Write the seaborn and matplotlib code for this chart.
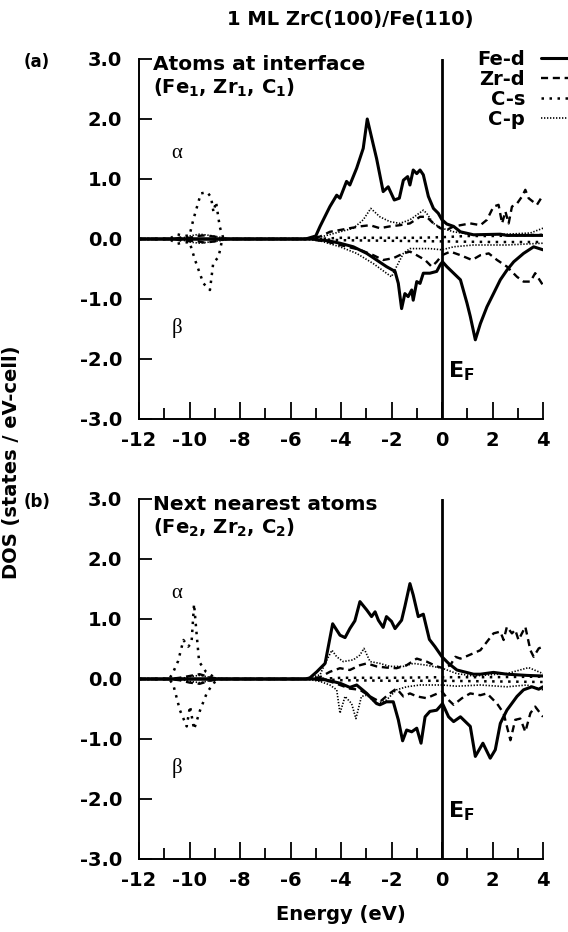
import matplotlib
matplotlib.use("Agg")
import matplotlib.pyplot as plt
import seaborn as sns
import numpy as np
import pandas as pd

# ---------------- data ----------------
# Panel (a): atoms at interface
a_fe_up_E = [-12, -5.4, -5.0, -4.83, -4.44, -4.17, -4.04, -3.78, -3.65, -3.38, -3.12, -2.96, -2.72, -2.59, -2.33, -2.13, -1.89, -1.69, -1.53, -1.36, -1.27, -1.14, -1.0, -0.87, -0.74, -0.54, -0.34, -0.15, 0.0, 0.19, 0.46, 0.73, 1.25, 2.31, 2.57, 4.0]
a_fe_up_v = [0, 0, 0.05, 0.21, 0.54, 0.73, 0.68, 0.96, 0.90, 1.18, 1.51, 2.0, 1.57, 1.34, 0.79, 0.87, 0.65, 0.68, 0.98, 1.04, 0.90, 1.15, 1.09, 1.15, 1.07, 0.71, 0.51, 0.43, 0.32, 0.25, 0.21, 0.12, 0.07, 0.08, 0.06, 0.06]
a_fe_dn_E = [-12, -5.2, -4.5, -4.04, -3.51, -2.98, -2.59, -2.2, -1.86, -1.73, -1.6, -1.47, -1.34, -1.2, -1.14, -1.0, -0.87, -0.74, -0.48, -0.21, -0.07, 0.02, 0.19, 0.46, 0.73, 0.99, 1.12, 1.32, 1.52, 1.78, 2.04, 2.31, 2.57, 2.84, 3.23, 3.63, 4.0]
a_fe_dn_v = [0, 0, -0.03, -0.07, -0.13, -0.24, -0.35, -0.46, -0.54, -0.74, -1.16, -0.91, -0.96, -0.85, -1.02, -0.71, -0.74, -0.57, -0.57, -0.54, -0.43, -0.38, -0.46, -0.57, -0.68, -1.07, -1.29, -1.68, -1.41, -1.13, -0.91, -0.68, -0.52, -0.38, -0.24, -0.13, -0.18]
a_zr_up_E = [-12, -10.6, -10.3, -10.0, -9.7, -9.4, -9.0, -8.6, -5.4, -4.83, -4.44, -4.04, -3.65, -3.25, -2.85, -2.46, -2.07, -1.67, -1.27, -0.87, -0.61, -0.34, -0.07, 0.19, 0.46, 0.73, 1.12, 1.52, 1.78, 2.04, 2.24, 2.38, 2.51, 2.64, 2.77, 2.97, 3.17, 3.3, 3.43, 3.76, 4.0]
a_zr_up_v = [0, 0, 0.03, 0.02, 0.05, 0.06, 0.04, 0, 0, 0.04, 0.12, 0.15, 0.18, 0.21, 0.23, 0.18, 0.21, 0.23, 0.26, 0.37, 0.37, 0.26, 0.18, 0.15, 0.21, 0.23, 0.26, 0.23, 0.32, 0.54, 0.57, 0.26, 0.46, 0.26, 0.54, 0.59, 0.71, 0.82, 0.68, 0.57, 0.73]
a_zr_dn_E = [-12, -10.6, -10.2, -9.8, -9.4, -9.0, -8.6, -5.3, -4.6, -4.04, -3.25, -2.72, -2.33, -1.93, -1.53, -1.27, -1.0, -0.67, -0.41, -0.21, 0.0, 0.33, 0.73, 1.19, 1.52, 1.85, 2.18, 2.57, 2.97, 3.23, 3.5, 3.69, 4.0]
a_zr_dn_v = [0, 0, -0.04, -0.03, -0.06, -0.04, 0, 0, -0.04, -0.1, -0.18, -0.27, -0.35, -0.32, -0.24, -0.21, -0.27, -0.35, -0.46, -0.38, -0.27, -0.21, -0.27, -0.35, -0.27, -0.24, -0.35, -0.46, -0.63, -0.71, -0.71, -0.57, -0.77]
a_cs_up_E = [-12, -10.8, -10.5, -10.2, -10.0, -9.85, -9.55, -9.3, -9.15, -9.05, -8.95, -8.8, -8.65, -5.0, -4.0, -3.0, -2.0, -1.0, 0.0, 1.0, 2.0, 3.0, 4.0]
a_cs_up_v = [0, 0, 0.08, 0.05, 0.06, 0.32, 0.76, 0.78, 0.70, 0.45, 0.62, 0.2, 0.0, 0.0, 0.02, 0.02, 0.02, 0.02, 0.03, 0.05, 0.05, 0.06, 0.07]
a_cs_dn_E = [-12, -10.8, -10.5, -10.2, -10.0, -9.78, -9.45, -9.19, -9.06, -8.85, -8.7, -5.0, -4.0, -2.0, 0.0, 2.0, 4.0]
a_cs_dn_v = [0, 0, -0.08, -0.06, -0.05, -0.35, -0.74, -0.85, -0.40, -0.30, 0.0, 0.0, -0.02, -0.03, -0.04, -0.05, -0.05]
a_cp_up_E = [-12, -10.4, -10.0, -9.6, -9.2, -8.8, -8.4, -5.4, -4.83, -4.04, -3.51, -3.12, -2.82, -2.46, -2.07, -1.67, -1.27, -1.0, -0.74, -0.61, -0.34, 0.0, 0.46, 1.25, 2.57, 3.5, 4.0]
a_cp_up_v = [0, 0, 0.05, 0.08, 0.06, 0.03, 0, 0, 0.03, 0.12, 0.18, 0.32, 0.51, 0.37, 0.29, 0.26, 0.32, 0.40, 0.48, 0.43, 0.26, 0.18, 0.12, 0.07, 0.08, 0.1, 0.18]
a_cp_dn_E = [-12, -10.4, -10.0, -9.6, -9.2, -8.8, -8.4, -5.4, -4.83, -4.04, -3.38, -2.72, -2.2, -2.0, -1.8, -1.53, -1.27, -0.87, -0.48, 0.0, 0.46, 1.25, 2.57, 4.0]
a_cp_dn_v = [0, 0, -0.05, -0.07, -0.05, -0.03, 0, 0, -0.03, -0.13, -0.24, -0.41, -0.57, -0.63, -0.46, -0.24, -0.16, -0.16, -0.16, -0.18, -0.13, -0.1, -0.1, -0.07]

# Panel (b): next nearest atoms
b_fe_up_E = [-12, -5.4, -5.23, -4.96, -4.63, -4.33, -4.04, -3.84, -3.65, -3.45, -3.25, -2.98, -2.79, -2.65, -2.52, -2.33, -2.2, -2.0, -1.86, -1.6, -1.47, -1.27, -1.14, -0.94, -0.74, -0.5, -0.28, 0.0, 0.26, 0.59, 1.25, 1.52, 2.04, 2.57, 3.36, 4.0]
b_fe_up_v = [0, 0, 0.02, 0.12, 0.26, 0.92, 0.73, 0.69, 0.84, 0.97, 1.29, 1.15, 1.04, 1.12, 0.98, 0.86, 1.04, 0.96, 0.84, 0.98, 1.21, 1.59, 1.40, 1.04, 1.08, 0.66, 0.54, 0.37, 0.26, 0.15, 0.08, 0.08, 0.11, 0.08, 0.06, 0.05]
b_fe_dn_E = [-12, -5.2, -4.83, -4.44, -4.04, -3.65, -3.38, -2.98, -2.59, -2.46, -2.2, -1.93, -1.73, -1.56, -1.4, -1.2, -1.0, -0.83, -0.67, -0.48, -0.21, 0.02, 0.26, 0.46, 0.73, 1.12, 1.32, 1.62, 1.91, 2.11, 2.31, 2.57, 2.97, 3.23, 3.56, 3.83, 4.0]
b_fe_dn_v = [0, 0, 0, -0.03, -0.07, -0.14, -0.10, -0.24, -0.41, -0.43, -0.38, -0.38, -0.68, -1.03, -0.85, -0.88, -0.82, -1.07, -0.63, -0.54, -0.52, -0.41, -0.63, -0.71, -0.63, -0.79, -1.29, -1.07, -1.32, -1.18, -0.74, -0.52, -0.29, -0.18, -0.13, -0.17, -0.13]
b_zr_up_E = [-12, -10.8, -10.4, -10.0, -9.6, -9.2, -8.8, -5.4, -4.83, -4.44, -4.04, -3.65, -3.25, -2.98, -2.59, -2.2, -1.8, -1.4, -1.0, -0.61, -0.21, 0.06, 0.33, 0.53, 0.73, 0.92, 1.25, 1.52, 1.78, 2.04, 2.31, 2.44, 2.57, 2.77, 2.9, 3.03, 3.3, 3.5, 3.63, 3.83, 4.0]
b_zr_up_v = [0, 0, 0.02, 0.05, 0.08, 0.03, 0, 0, 0.03, 0.12, 0.18, 0.15, 0.23, 0.26, 0.21, 0.19, 0.18, 0.23, 0.34, 0.29, 0.21, 0.18, 0.23, 0.37, 0.34, 0.37, 0.43, 0.48, 0.62, 0.76, 0.79, 0.65, 0.87, 0.76, 0.82, 0.65, 0.87, 0.48, 0.37, 0.51, 0.54]
b_zr_dn_E = [-12, -10.8, -10.4, -10.0, -9.6, -9.2, -8.8, -5.2, -4.44, -4.04, -3.65, -3.25, -2.85, -2.46, -2.07, -1.8, -1.53, -1.27, -1.0, -0.61, -0.34, 0.0, 0.26, 0.46, 0.79, 1.12, 1.52, 1.78, 2.18, 2.44, 2.57, 2.71, 2.9, 3.1, 3.3, 3.5, 3.69, 4.0]
b_zr_dn_v = [0, 0, -0.02, -0.06, -0.08, -0.03, 0, 0, -0.04, -0.1, -0.16, -0.18, -0.29, -0.38, -0.24, -0.16, -0.29, -0.24, -0.29, -0.32, -0.27, -0.21, -0.35, -0.43, -0.32, -0.24, -0.27, -0.24, -0.41, -0.57, -0.79, -1.02, -0.68, -0.66, -0.88, -0.57, -0.46, -0.63]
b_cs_up_E = [-12, -10.8, -10.64, -10.45, -10.24, -10.05, -9.92, -9.82, -9.72, -9.62, -9.35, -9.06, -8.8, -5.0, -4.0, -2.0, 0.0, 2.0, 4.0]
b_cs_up_v = [0, 0, 0.12, 0.3, 0.65, 0.54, 0.60, 1.25, 0.76, 0.29, 0.12, 0.04, 0, 0, 0.02, 0.02, 0.03, 0.03, 0.04]
b_cs_dn_E = [-12, -10.8, -10.64, -10.38, -10.11, -9.98, -9.82, -9.58, -9.32, -9.06, -8.8, -5.0, -4.0, -2.0, 0.0, 2.0, 4.0]
b_cs_dn_v = [0, 0, -0.1, -0.52, -0.79, -0.45, -0.84, -0.52, -0.24, -0.07, 0, 0, -0.02, -0.03, -0.03, -0.04, -0.05]
b_cp_up_E = [-12, -10.4, -10.0, -9.6, -9.2, -8.8, -5.4, -4.83, -4.63, -4.36, -4.17, -3.91, -3.51, -3.25, -3.09, -2.85, -2.46, -2.07, -1.53, -1.14, -0.61, 0.0, 0.59, 1.25, 2.57, 3.43, 4.0]
b_cp_up_v = [0, 0, 0.04, 0.06, 0.03, 0, 0, 0.07, 0.26, 0.48, 0.37, 0.29, 0.32, 0.40, 0.51, 0.29, 0.26, 0.21, 0.21, 0.26, 0.23, 0.18, 0.09, 0.05, 0.09, 0.19, 0.09]
b_cp_dn_E = [-12, -10.4, -10.0, -9.6, -9.2, -8.8, -5.4, -4.83, -4.44, -4.17, -4.04, -3.84, -3.58, -3.41, -3.19, -2.98, -2.59, -2.2, -1.8, -1.4, -0.87, 0.0, 0.59, 1.52, 2.57, 3.36, 4.0]
b_cp_dn_v = [0, 0, -0.04, -0.06, -0.03, 0, 0, -0.04, -0.1, -0.18, -0.57, -0.29, -0.41, -0.66, -0.29, -0.27, -0.41, -0.35, -0.18, -0.13, -0.1, -0.1, -0.12, -0.1, -0.13, -0.1, -0.18]

orbitals = ["Fe-d", "Zr-d", "C-s", "C-p"]
x_ticks = [-12, -10, -8, -6, -4, -2, 0, 2, 4]
y_ticks = [-3.0, -2.0, -1.0, 0.0, 1.0, 2.0, 3.0]

# ---------------- styling ----------------
sns.set_theme(style="ticks")
plt.rcParams["font.family"] = ["DejaVu Sans"]
plt.rcParams["font.weight"] = "bold"
plt.rcParams["text.color"] = "black"
plt.rcParams["axes.labelcolor"] = "black"
plt.rcParams["xtick.color"] = "black"
plt.rcParams["ytick.color"] = "black"
plt.rcParams["mathtext.fontset"] = "dejavusans"
plt.rcParams["mathtext.default"] = "bf"

styles = {
    "Fe-d": dict(linestyle="-", linewidth=2.2),
    "Zr-d": dict(linestyle=(0, (3.0, 2.0)), linewidth=1.7),
    "C-s": dict(linestyle=(0, (1.0, 2.2)), linewidth=1.8),
    "C-p": dict(linestyle=(0, (0.8, 1.0)), linewidth=1.2),
}

W, H = 568, 932
fig = plt.figure(figsize=(W / 100, H / 100), dpi=100)

def fx(px):
    return px / W

def fy(py):
    return 1 - py / H

left_px, right_px = 139, 543
panels = [
    dict(top=59, bottom=419,
         data={"Fe-d": (a_fe_up_E, a_fe_up_v, a_fe_dn_E, a_fe_dn_v),
               "Zr-d": (a_zr_up_E, a_zr_up_v, a_zr_dn_E, a_zr_dn_v),
               "C-s": (a_cs_up_E, a_cs_up_v, a_cs_dn_E, a_cs_dn_v),
               "C-p": (a_cp_up_E, a_cp_up_v, a_cp_dn_E, a_cp_dn_v)},
         tag="(a)", head1="Atoms at interface", head2=r"(Fe$_1$, Zr$_1$, C$_1$)"),
    dict(top=499, bottom=859,
         data={"Fe-d": (b_fe_up_E, b_fe_up_v, b_fe_dn_E, b_fe_dn_v),
               "Zr-d": (b_zr_up_E, b_zr_up_v, b_zr_dn_E, b_zr_dn_v),
               "C-s": (b_cs_up_E, b_cs_up_v, b_cs_dn_E, b_cs_dn_v),
               "C-p": (b_cp_up_E, b_cp_up_v, b_cp_dn_E, b_cp_dn_v)},
         tag="(b)", head1="Next nearest atoms", head2=r"(Fe$_2$, Zr$_2$, C$_2$)"),
]

tick_fs = 14
axes = []
for i, p in enumerate(panels):
    ax = fig.add_axes([fx(left_px), fy(p["bottom"]), fx(right_px - left_px),
                       (p["bottom"] - p["top"]) / H])
    axes.append(ax)
    for orb in orbitals:
        eu, vu, ed, vd = p["data"][orb]
        df_u = pd.DataFrame({"E": eu, "DOS": vu})
        df_d = pd.DataFrame({"E": ed, "DOS": vd})
        sns.lineplot(data=df_u, x="E", y="DOS", ax=ax, color="black",
                     estimator=None, sort=False, label=orb, **styles[orb])
        sns.lineplot(data=df_d, x="E", y="DOS", ax=ax, color="black",
                     estimator=None, sort=False, label="_nolegend_", **styles[orb])
    ax.axvline(0, color="black", linewidth=2.0)
    ax.set_xlim(-12, 4)
    ax.set_ylim(-3, 3)
    ax.set_xlabel("")
    ax.set_ylabel("")
    for s in ["top", "right"]:
        ax.spines[s].set_visible(False)
    for s in ["left", "bottom"]:
        ax.spines[s].set_linewidth(1.4)
        ax.spines[s].set_color("black")
    ax.set_xticks(x_ticks)
    ax.set_xticks([-11, -9, -7, -5, -3, -1, 1, 3], minor=True)
    ax.set_xticklabels([str(t) for t in x_ticks], fontsize=tick_fs, fontweight="bold")
    ax.set_yticks(y_ticks)
    ax.set_yticklabels(["%.1f" % t for t in y_ticks], fontsize=tick_fs, fontweight="bold")
    ax.tick_params(axis="both", which="major", direction="in", length=12, width=1.3,
                   color="black", labelcolor="black")
    ax.tick_params(axis="x", which="major", pad=9)
    ax.tick_params(axis="y", which="major", pad=12, length=9)
    ax.tick_params(axis="x", which="minor", direction="in", length=8, width=1.3, color="black")
    ax.grid(False)
    if ax.get_legend() is not None:
        ax.get_legend().remove()

    # annotations
    ax.text(-10.5, 1.43, "α", family=["Liberation Serif", "DejaVu Serif"],
            fontweight="normal", fontsize=15, ha="center", va="center", color="black")
    ax.text(-10.5, -1.48, "β", family=["Liberation Serif", "DejaVu Serif"],
            fontweight="normal", fontsize=15, ha="center", va="center", color="black")
    ax.text(0.25, -2.2, r"$E_F$", fontsize=16, ha="left", va="center", color="black")
    fig.text(fx(24), fy(p["top"] + 3), p["tag"], fontsize=12, fontweight="bold",
             ha="left", va="center", color="black")
    fig.text(fx(153), fy(p["top"] + 6), p["head1"], fontsize=14.5, fontweight="bold",
             ha="left", va="center", color="black")
    fig.text(fx(153), fy(p["top"] + 29), p["head2"], fontsize=14, fontweight="bold",
             ha="left", va="center", color="black")

# legend (labels first, line samples to the right)
handles, labels = axes[0].get_legend_handles_labels()
leg = fig.legend(handles, labels, loc="upper right", bbox_to_anchor=(1.0, fy(50)),
                 frameon=False, markerfirst=False, handlelength=1.4,
                 handletextpad=0.8, labelspacing=0.05, borderpad=0, borderaxespad=0,
                 prop={"weight": "bold", "size": 14})
for t in leg.get_texts():
    t.set_color("black")

fig.text(fx(350), fy(20), "1 ML ZrC(100)/Fe(110)", fontsize=14, fontweight="bold",
         ha="center", va="center", color="black")
fig.text(fx(12), fy(462), "DOS (states / eV-cell)", fontsize=14, fontweight="bold",
         ha="center", va="center", rotation=90, color="black")
fig.text(fx(341), fy(915), "Energy (eV)", fontsize=14, fontweight="bold",
         ha="center", va="center", color="black")

fig.savefig("out.png", dpi=100)
